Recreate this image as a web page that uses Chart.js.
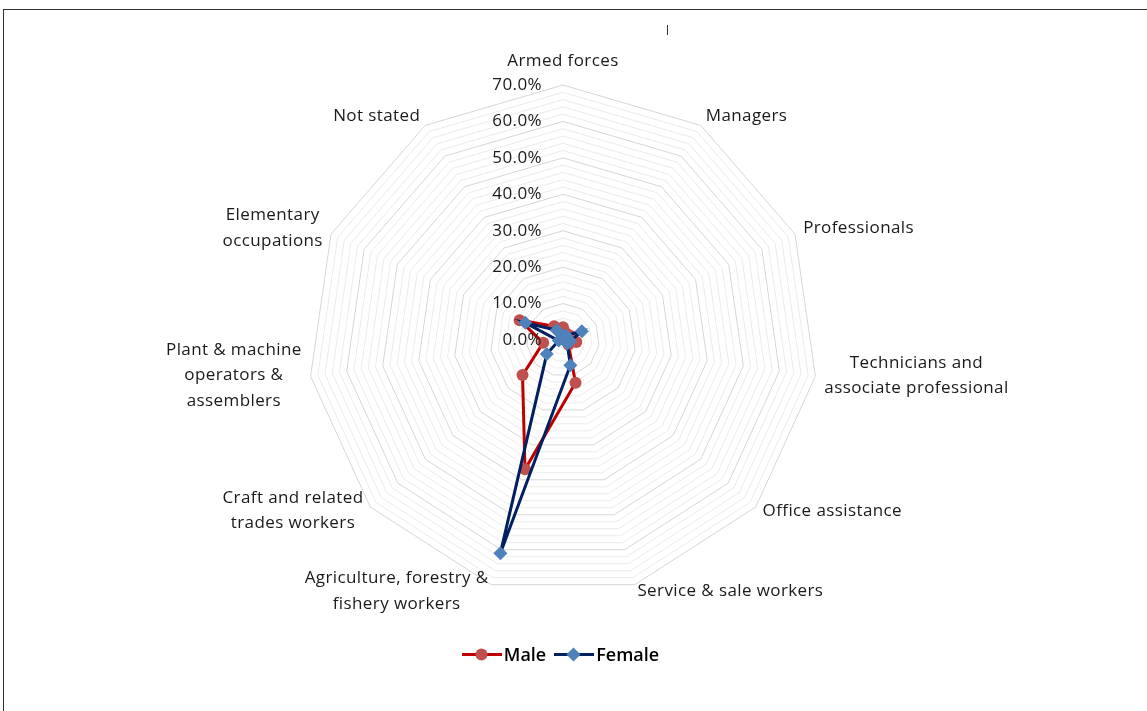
<!DOCTYPE html>
<html>
<head>
<meta charset="utf-8">
<script src="https://cdn.jsdelivr.net/npm/chart.js@4.4.1/dist/chart.umd.min.js"></script>
<style>
  body { margin: 0; background: #fff; }
  #wrap { position: relative; width: 1147px; height: 711px; overflow: hidden; }
  #frame { position: absolute; left: 3px; top: 9px; width: 1200px; height: 800px;
           border-left: 1px solid #333; border-top: 1px solid #333; }
  #tick { position: absolute; left: 667px; top: 25px; width: 1px; height: 10px; background: #333; }
  #myChart { position: absolute; left: 0; top: 0; }
  #legend { position: absolute; left: 0; width: 1121px; top: 642px; text-align: center;
            font-family: "Open Sans", sans-serif; font-weight: 600; font-size: 18px; color: #000; }
  #legend span.item { display: inline-flex; align-items: center; margin: 0 4px; }
  #legend svg { margin-right: 2px; }
</style>
</head>
<body>
<div id="wrap">
  <div id="frame"></div>
  <div id="tick"></div>
  <canvas id="myChart" width="1147" height="711"></canvas>
  <div id="legend"></div>
</div>
<script>
  var occupations = [
    ["Armed forces"],
    ["Managers"],
    ["Professionals"],
    ["Technicians and", "associate professional"],
    ["Office assistance"],
    ["Service & sale workers"],
    ["Agriculture, forestry &", "fishery workers"],
    ["Craft and related", "trades workers"],
    ["Plant & machine", "operators &", "assemblers"],
    ["Elementary", "occupations"],
    ["Not stated"]
  ];
  var maleShare = [3.5, 2.0, 2.5, 3.7, 2.0, 12.2, 37.0, 14.7, 5.5, 13.1, 4.5];
  var femaleShare = [0.9, 1.5, 5.7, 2.0, 1.5, 7.2, 61.0, 5.9, 1.2, 11.4, 3.2];
  var tickValues = [0, 10, 20, 30, 40, 50, 60, 70];

  var maleLine = "#C00000", maleDot = "#C0504D";
  var femaleLine = "#002060", femaleDot = "#4F81BD";
  var labelFont = '17px "Open Sans", sans-serif';

  // category names and % ticks drawn by hand, placed off the radial scale
  var radarText = {
    id: "radarText",
    afterDraw: function (chart) {
      var scale = chart.scales.r;
      var ctx = chart.ctx;
      ctx.save();
      ctx.font = labelFont;
      ctx.letterSpacing = "0.4px";
      ctx.fillStyle = "#1a1a1a";
      ctx.textBaseline = "middle";

      // tick labels, right aligned left of the vertical axis
      ctx.textAlign = "right";
      tickValues.forEach(function (v) {
        var d = scale.getDistanceFromCenterForValue(v);
        ctx.fillText(v.toFixed(1) + "%", scale.xCenter - 21, scale.yCenter - d);
      });

      // point labels
      var lineH = 25.5;
      occupations.forEach(function (lines, i) {
        var p = scale.getPointPosition(i, scale.drawingArea + 9);
        var ang = p.angle + Math.PI / 2;
        var s = Math.sin(ang);
        var w = 0;
        lines.forEach(function (t) { w = Math.max(w, ctx.measureText(t).width); });
        var h = lines.length * lineH;
        var cx, cy;
        if (Math.abs(s) < 0.1) {
          cx = p.x;
          cy = p.y - h / 2 - 2;
        } else if (s > 0) {
          cx = p.x + w / 2;
          cy = p.y - 2;
        } else {
          cx = p.x - w / 2;
          cy = p.y - 2;
        }
        ctx.textAlign = "center";
        lines.forEach(function (t, k) {
          ctx.fillText(t, cx, cy - h / 2 + lineH * (k + 0.5));
        });
      });
      ctx.restore();
    }
  };

  new Chart("myChart", {
    type: "radar",
    data: {
      labels: occupations,
      datasets: [{
        label: "Male",
        data: maleShare,
        borderColor: maleLine,
        borderWidth: 3,
        pointStyle: "circle",
        pointRadius: 6,
        pointBorderWidth: 0,
        pointBackgroundColor: maleDot,
        pointBorderColor: maleDot,
        fill: false,
        order: 2
      }, {
        label: "Female",
        data: femaleShare,
        borderColor: femaleLine,
        borderWidth: 3,
        pointStyle: "rectRot",
        pointRadius: 7,
        pointBorderWidth: 0,
        pointBackgroundColor: femaleDot,
        pointBorderColor: femaleDot,
        fill: false,
        order: 1
      }]
    },
    options: {
      responsive: false,
      animation: false,
      layout: { padding: { top: 85, bottom: 116, left: 0, right: 21 } },
      plugins: {
        legend: { display: false },
        tooltip: { enabled: false }
      },
      scales: {
        r: {
          min: 0,
          max: 70,
          ticks: { stepSize: 2, display: false },
          angleLines: { display: false },
          pointLabels: { display: false },
          grid: {
            lineWidth: 1,
            color: function (c) {
              return c.tick && c.tick.value % 10 === 0 ? "#d6d6d6" : "#ebebeb";
            }
          }
        }
      }
    },
    plugins: [radarText]
  });

  function legendIcon(line, dot, diamond) {
    var mark = diamond
      ? '<rect x="14.5" y="3.5" width="10" height="10" fill="' + dot + '" transform="rotate(45 19.5 8.5)"/>'
      : '<circle cx="19.5" cy="8.5" r="6" fill="' + dot + '"/>';
    return '<svg width="40" height="17"><line x1="0" y1="8.5" x2="40" y2="8.5" stroke="' + line +
      '" stroke-width="3"/>' + mark + '</svg>';
  }
  document.getElementById("legend").innerHTML =
    '<span class="item">' + legendIcon(maleLine, maleDot, false) + 'Male</span>' +
    '<span class="item">' + legendIcon(femaleLine, femaleDot, true) + 'Female</span>';
</script>
</body>
</html>
